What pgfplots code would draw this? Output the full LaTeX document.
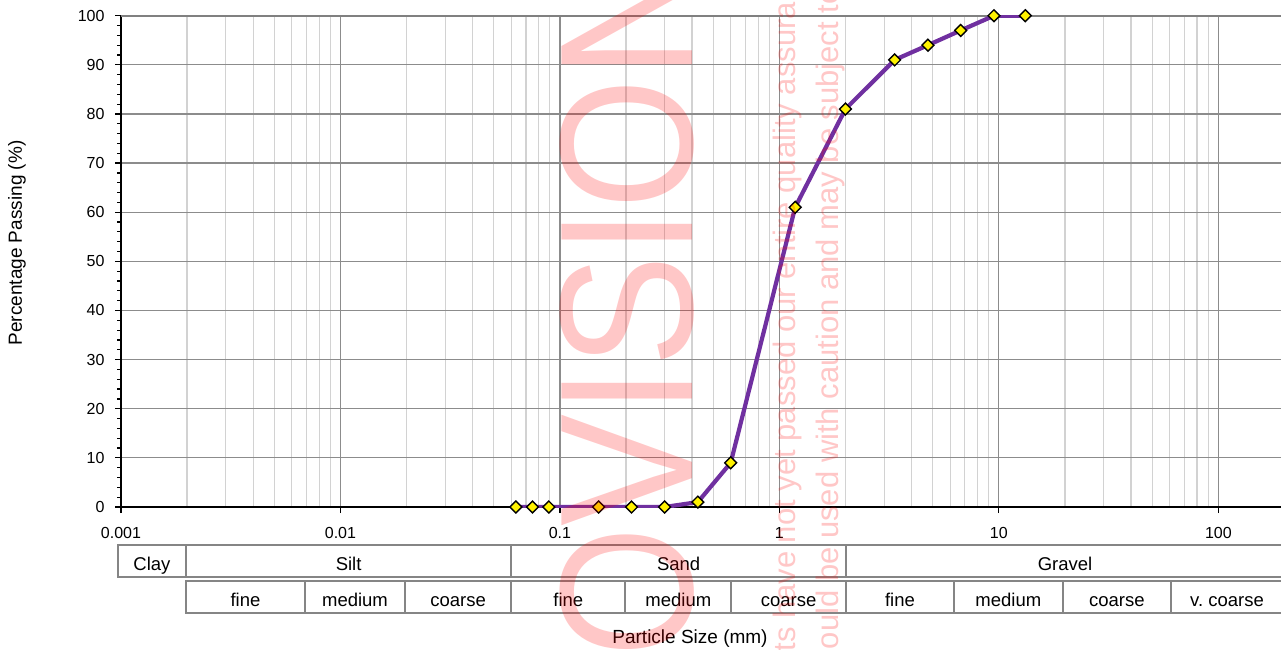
\documentclass[border=0pt]{standalone}
\usepackage{fontspec}
\setmainfont{Liberation Sans}
\usepackage{graphicx}
\usepackage{pgfplots}
\pgfplotsset{compat=1.18}
\definecolor{gridmajor}{HTML}{8C8C8C}
\definecolor{gridminor}{HTML}{D2D2D2}
\definecolor{curve}{HTML}{7030A0}
\definecolor{tablegray}{HTML}{858585}
\definecolor{topgray}{HTML}{808080}

\pgfplotstableread{
x y
0.063 0
0.075 0
0.089 0
0.150 0
0.212 0
0.300 0
0.425 1
0.600 9
1.18 61
2.00 81
3.35 91
4.75 94
6.70 97
9.50 100
13.2 100
}\gradingdata

\begin{document}
\begin{tikzpicture}[x=1pt,y=1pt]
\begin{axis}[
  at={(121pt,142pt)}, anchor=south west,
  scale only axis, width=1163.4pt, height=491.3pt,
  xmode=log, xmin=0.001, xmax=200, ymin=0, ymax=100,
  axis x line*=bottom, axis y line*=left,
  axis line style={black, line width=2pt},
  xtick={0.001,0.01,0.1,1,10,100},
  xticklabels={0.001,0.01,0.1,1,10,100},
  ytick={0,10,20,30,40,50,60,70,80,90,100},
  yticklabels={0,10,20,30,40,50,60,70,80,90,100},
  minor y tick num=4,
  tick align=outside,
  major tick length=6pt, minor tick length=4pt,
  tick style={black, line width=1.2pt},
  minor x tick style={draw=none},
  xmajorgrids, xminorgrids, ymajorgrids,
  major grid style={gridmajor, line width=1.2pt},
  minor grid style={gridminor, line width=1.2pt},
  ticklabel style={font=\fontsize{16}{19}\selectfont},
  yticklabel style={anchor=east, xshift=-7pt},
  xticklabel style={anchor=north, yshift=-11pt},
]
\draw[topgray, line width=2.2pt] (rel axis cs:0,1) -- (rel axis cs:1,1);
\addplot[curve, line width=4.2pt, mark=square*, mark size=4.2pt,
  mark options={rotate=45, fill=yellow, draw=black, line width=1.4pt}]
  table[x=x, y=y] {\gradingdata};
\end{axis}

% axis titles
\node[rotate=90, font=\fontsize{19}{22}\selectfont] at (17,406) {Percentage Passing (\%)};
\node[font=\fontsize{19}{22}\selectfont] at (690,10) {Particle Size (mm)};

% classification table
\begin{scope}[draw=tablegray, line width=2pt]
\draw (118,72.3) rectangle (186,103.7);
\draw (186,72.3) rectangle (511.3,103.7);
\draw (511.3,72.3) rectangle (846,103.7);
\draw (846,72.3) rectangle (1284.4,103.7);
\foreach \a/\b in {186/305,305/405,405/511.3,511.3/625.3,625.3/731.3,731.3/846,846/954,954/1062.7,1062.7/1171,1171/1284.4}
  \draw (\a,36.3) rectangle (\b,67.7);
\end{scope}
\begin{scope}[every node/.style={font=\fontsize{18.5}{22}\selectfont, anchor=base}]
\node at (152,79) {Clay};
\node at (348.6,79) {Silt};
\node at (678.6,79) {Sand};
\node at (1065,79) {Gravel};
\node at (245.5,42.3) {fine};
\node at (355,42.3) {medium};
\node at (458.1,42.3) {coarse};
\node at (568.3,42.3) {fine};
\node at (678.3,42.3) {medium};
\node at (788.6,42.3) {coarse};
\node at (900,42.3) {fine};
\node at (1008.3,42.3) {medium};
\node at (1116.8,42.3) {coarse};
\node at (1227,42.3) {v.\ coarse};
\end{scope}

% watermark
\node[rotate=90, anchor=base west, inner sep=0pt, text=red, text opacity=0.22,
  font=\fontsize{168}{168}\selectfont] at (692,-242) {\scalebox{1}[1.13]{PROVISIONAL}};
\node[rotate=90, anchor=base west, inner sep=0pt, text=red, text opacity=0.22,
  font=\fontsize{31}{31}\selectfont] at (795,-82) {Results have not yet passed our entire quality assurance};
\node[rotate=90, anchor=base west, inner sep=0pt, text=red, text opacity=0.22,
  font=\fontsize{31}{31}\selectfont] at (838,-33) {should be used with caution and may be subject to change};

\pgfresetboundingbox
\path[use as bounding box] (0,0) rectangle (1281,649);
\end{tikzpicture}
\end{document}
